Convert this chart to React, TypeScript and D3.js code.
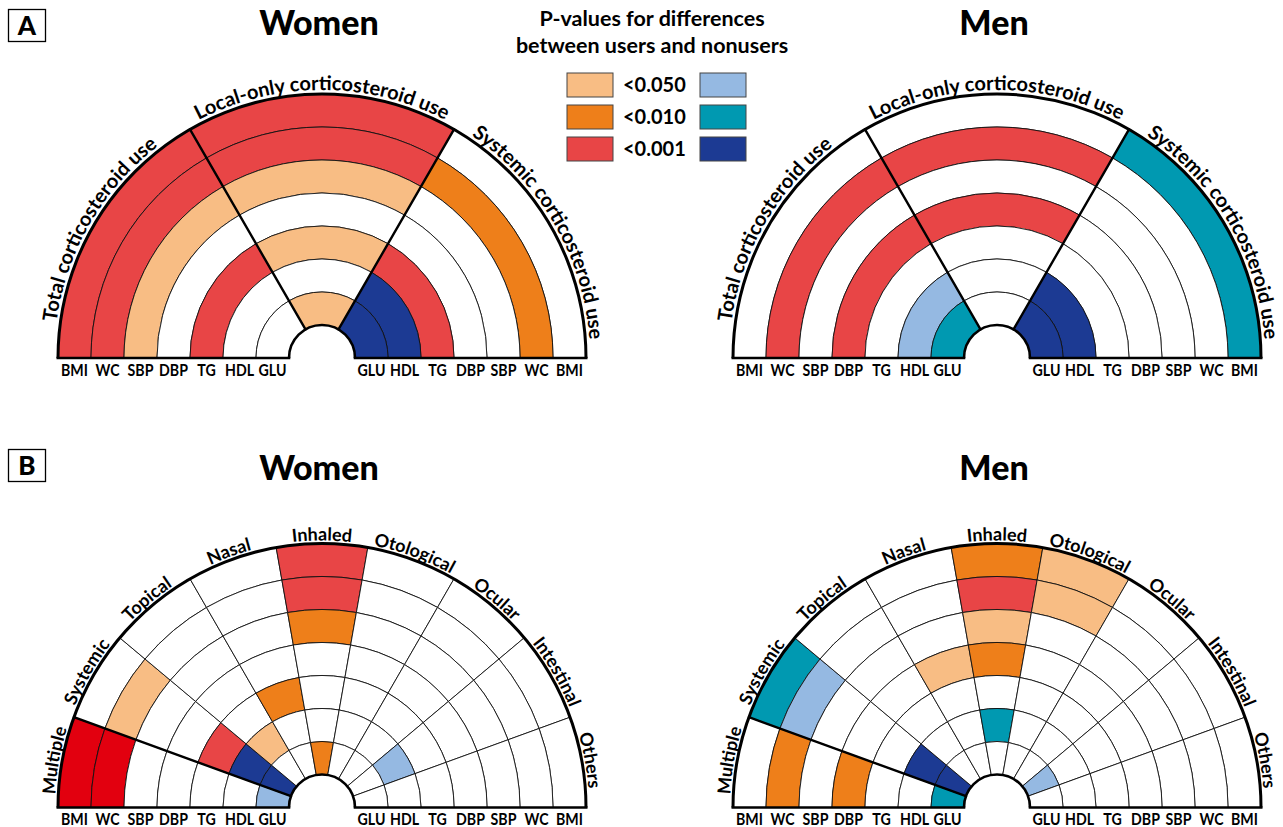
import React from "react";
import * as d3 from "d3";

// ---------- data ----------
const metrics = ["BMI", "WC", "SBP", "DBP", "TG", "HDL", "GLU"]; // outer -> inner
const sectorsA = ["Total corticosteroid use", "Local-only corticosteroid use", "Systemic corticosteroid use"];
const sectorsB = ["Multiple", "Systemic", "Topical", "Nasal", "Inhaled", "Otological", "Ocular", "Intestinal", "Others"];
const legendLevels = ["<0.050", "<0.010", "<0.001"];
const legendTitle = ["P-values for differences", "between users and nonusers"];

// codes: "" = n.s.; w1..w3 = warm (<0.050, <0.010, <0.001); c1..c3 = cool; m = multiple red
const womenA = [
  ["w3", "w3", "w1", "", "w3", "", ""],
  ["w3", "w3", "w1", "", "w1", "", "w1"],
  ["", "w2", "", "", "w3", "c3", "c3"],
];
const menA = [
  ["", "w3", "", "w3", "", "c1", "c2"],
  ["", "w3", "", "w3", "", "", ""],
  ["c2", "", "", "", "", "c3", "c3"],
];
const womenB = [
  ["m", "m", "", "", "", "", "c1"],
  ["", "w1", "", "", "w3", "c3", "c3"],
  ["", "", "", "", "", "w1", ""],
  ["", "", "", "", "w2", "", ""],
  ["w3", "w3", "w2", "", "", "", "w2"],
  ["", "", "", "", "", "", ""],
  ["", "", "", "", "", "", ""],
  ["", "", "", "", "", "c1", ""],
  ["", "", "", "", "", "", ""],
];
const menB = [
  ["", "w2", "", "w2", "", "", "c2"],
  ["c2", "c1", "", "", "", "c3", "c3"],
  ["", "", "", "", "", "", ""],
  ["", "", "", "w1", "", "", ""],
  ["w2", "w3", "w1", "w2", "", "c2", ""],
  ["w1", "w1", "", "", "", "", ""],
  ["", "", "", "", "", "", ""],
  ["", "", "", "", "", "", "c1"],
  ["", "", "", "", "", "", ""],
];

const warmColors = ["#f8bd84", "#ee7f1a", "#e84546"];
const coolColors = ["#95b9e2", "#0099b1", "#1c3a93"];
const multipleRed = "#e2000f";

const colorOf: Record<string, string> = {
  "": "#ffffff",
  w1: warmColors[0], w2: warmColors[1], w3: warmColors[2],
  c1: coolColors[0], c2: coolColors[1], c3: coolColors[2],
  m: multipleRed,
};

const FONT = "Lato, 'Open Sans', Arial, sans-serif";
const R_OUT = 264;
const R_IN = 33;

type ChartProps = {
  id: string;
  cx: number;
  cy: number;
  sectors: string[];
  data: string[][];
  thick: number[]; // boundary indices drawn thick
  title: string;
  titleY: number;
  labelSize: number;
  labelR: number;
};

function Semi({ id, cx, cy, sectors, data, thick, title, titleY, labelSize, labelR }: ChartProps) {
  const n = sectors.length;
  const ang = d3.scaleLinear().domain([0, n]).range([-Math.PI / 2, Math.PI / 2]);
  const rad = d3.scaleLinear().domain([0, metrics.length]).range([R_OUT, R_IN]);
  const arc = d3.arc<any>();

  const cells: any[] = [];
  data.forEach((col, i) => {
    col.forEach((code, j) => {
      const d = arc({
        innerRadius: rad(j + 1),
        outerRadius: rad(j),
        startAngle: ang(i),
        endAngle: ang(i + 1),
      }) as string;
      cells.push(
        <path key={`c${i}-${j}`} d={d} fill={colorOf[code]} stroke="#111" strokeWidth={0.9} />
      );
    });
  });

  const pt = (a: number, r: number) => [cx + r * Math.sin(a), cy - r * Math.cos(a)];

  const outer = d3.path();
  outer.arc(cx, cy, R_OUT, Math.PI, 2 * Math.PI);
  const inner = d3.path();
  inner.arc(cx, cy, R_IN, Math.PI, 2 * Math.PI);

  const dividers = thick.map((b) => {
    const [x0, y0] = pt(ang(b), R_IN);
    const [x1, y1] = pt(ang(b), R_OUT);
    return <line key={`d${b}`} x1={x0} y1={y0} x2={x1} y2={y1} stroke="#000" strokeWidth={2.4} strokeLinecap="round" />;
  });

  const textPaths = sectors.map((s, i) => {
    const [x0, y0] = pt(ang(i), labelR);
    const [x1, y1] = pt(ang(i + 1), labelR);
    return `M${x0},${y0} A${labelR},${labelR} 0 0 1 ${x1},${y1}`;
  });

  return (
    <g>
      <text x={cx - 3} y={titleY} textAnchor="middle" fontFamily={FONT} fontWeight={900} fontSize={34}>
        {title}
      </text>
      <g transform={`translate(${cx},${cy})`}>{cells}</g>
      <path d={outer.toString()} fill="none" stroke="#000" strokeWidth={3} />
      <path d={inner.toString()} fill="#fff" stroke="#000" strokeWidth={2.6} />
      <line x1={cx - R_OUT - 1.5} y1={cy} x2={cx - R_IN + 1.3} y2={cy} stroke="#000" strokeWidth={2.6} />
      <line x1={cx + R_IN - 1.3} y1={cy} x2={cx + R_OUT + 1.5} y2={cy} stroke="#000" strokeWidth={2.6} />
      {dividers}
      <defs>
        {textPaths.map((d, i) => (
          <path key={i} id={`${id}-tp${i}`} d={d} fill="none" />
        ))}
      </defs>
      {sectors.map((s, i) => (
        <text key={`t${i}`} fontFamily={FONT} fontWeight={700} fontSize={labelSize} fill="#000">
          <textPath href={`#${id}-tp${i}`} startOffset="50%" textAnchor="middle">
            {s}
          </textPath>
        </text>
      ))}
      {metrics.map((m, j) => {
        const mid = (rad(j) + rad(j + 1)) / 2;
        return (
          <g key={`m${j}`}>
            {[-1, 1].map((side) => (
              <text
                key={side}
                transform={`translate(${cx + side * mid},${cy + 17.5}) scale(0.86,1)`}
                textAnchor="middle"
                fontFamily={FONT}
                fontWeight={700}
                fontSize={16.5}
              >
                {m}
              </text>
            ))}
          </g>
        );
      })}
    </g>
  );
}

function Legend() {
  const rows = d3.range(legendLevels.length);
  const y = d3.scaleLinear().domain([0, 1]).range([73, 105]);
  return (
    <g>
      {legendTitle.map((t, i) => (
        <text key={i} x={652} y={26 + i * 27} textAnchor="middle" fontFamily={FONT} fontWeight={700} fontSize={21.5}>
          {t}
        </text>
      ))}
      {rows.map((i) => (
        <g key={i}>
          <rect x={567} y={y(i)} width={46} height={24} fill={warmColors[i]} stroke="#444" strokeWidth={1} />
          <text x={623} y={y(i) + 19} fontFamily={FONT} fontWeight={700} fontSize={20}>
            {legendLevels[i]}
          </text>
          <rect x={700} y={y(i)} width={46} height={24} fill={coolColors[i]} stroke="#444" strokeWidth={1} />
        </g>
      ))}
    </g>
  );
}

function PanelTag({ label, y }: { label: string; y: number }) {
  return (
    <g>
      <rect x={8.5} y={y} width={37} height={32} fill="#fff" stroke="#000" strokeWidth={1.3} />
      <text x={27} y={y + 25} textAnchor="middle" fontFamily={FONT} fontWeight={900} fontSize={26}>
        {label}
      </text>
    </g>
  );
}

export default function App() {
  return (
    <div style={{ position: "absolute", left: 0, top: 0 }}>
      <svg width={1283} height={827} viewBox="0 0 1283 827" style={{ display: "block", background: "#fff" }}>
        <rect width={1283} height={827} fill="#fff" />
        <PanelTag label="A" y={9.5} />
        <PanelTag label="B" y={449.5} />
        <Semi id="wa" cx={322} cy={358} sectors={sectorsA} data={womenA} thick={[1, 2]} title="Women" titleY={35} labelSize={20} labelR={268} />
        <Semi id="ma" cx={997} cy={358} sectors={sectorsA} data={menA} thick={[1, 2]} title="Men" titleY={35} labelSize={20} labelR={268} />
        <Semi id="wb" cx={322} cy={807.5} sectors={sectorsB} data={womenB} thick={[1]} title="Women" titleY={480} labelSize={18} labelR={267} />
        <Semi id="mb" cx={997} cy={807.5} sectors={sectorsB} data={menB} thick={[1]} title="Men" titleY={480} labelSize={18} labelR={267} />
        <Legend />
      </svg>
    </div>
  );
}
